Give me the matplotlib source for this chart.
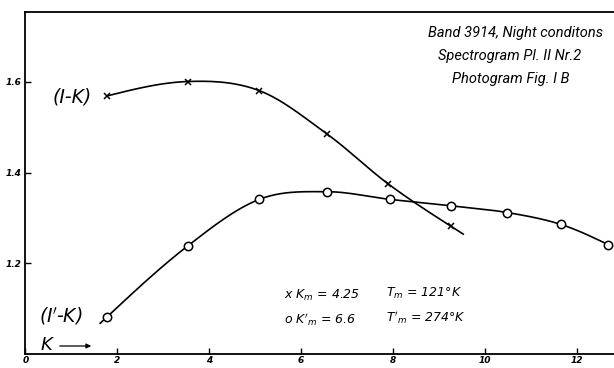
import numpy as np
import matplotlib
matplotlib.use("Agg")
import matplotlib.pyplot as plt

# ---- data ----
k_cross = [1.77, 3.53, 5.09, 6.57, 7.90, 9.26]
v_cross = [1.569, 1.601, 1.581, 1.485, 1.375, 1.282]
k_circle = [1.77, 3.53, 5.09, 6.56, 7.94, 9.26, 10.49, 11.65, 12.69]
v_circle = [1.081, 1.238, 1.341, 1.358, 1.341, 1.327, 1.312, 1.286, 1.241]
x_ticks = [0, 2, 4, 6, 8, 10, 12]
x_ticklabels = ["0", "2", "4", "6", "8", "10", "12"]
y_ticks = [1.2, 1.4, 1.6]
y_ticklabels = ["1.2", "1.4", "1.6"]
title_lines = ["Band 3914, Night conditons", "Spectrogram Pl. II Nr.2", "Photogram Fig. I B"]

plt.rcParams['mathtext.fontset'] = 'dejavusans'
W, H = 614, 368


def smooth(xs, ys, n=40, ext_start=0.0, ext_end=0.0):
    xs = np.asarray(xs, float)
    ys = np.asarray(ys, float)
    m = np.zeros_like(ys)
    for i in range(1, len(xs) - 1):
        m[i] = (ys[i + 1] - ys[i - 1]) / (xs[i + 1] - xs[i - 1])
    s0 = (ys[1] - ys[0]) / (xs[1] - xs[0])
    s1 = (ys[-1] - ys[-2]) / (xs[-1] - xs[-2])
    m[0] = (3 * s0 - m[1]) / 2
    m[-1] = (3 * s1 - m[-2]) / 2
    ox, oy = [], []
    if ext_start > 0:
        ox += [xs[0] - ext_start]
        oy += [ys[0] - m[0] * ext_start]
    for i in range(len(xs) - 1):
        h = xs[i + 1] - xs[i]
        t = np.linspace(0, 1, n)
        h00 = 2 * t**3 - 3 * t**2 + 1
        h10 = t**3 - 2 * t**2 + t
        h01 = -2 * t**3 + 3 * t**2
        h11 = t**3 - t**2
        y = h00 * ys[i] + h10 * h * m[i] + h01 * ys[i + 1] + h11 * h * m[i + 1]
        ox += list(xs[i] + t * h)
        oy += list(y)
    if ext_end > 0:
        ox += [xs[-1] + ext_end]
        oy += [ys[-1] + m[-1] * ext_end]
    return np.array(ox), np.array(oy)


fig = plt.figure(figsize=(W / 100, H / 100), dpi=100)
left = 25.3 / W
bottom = 1 - 354 / H
top = 1 - 11.7 / H
ax = fig.add_axes([left, bottom, 1 - left, top - bottom])
ax.set_xlim(0, (W - 25.3) / 45.95)
ax.set_ylim(1.0, 1.755)

for s in ['left', 'bottom', 'top']:
    ax.spines[s].set_linewidth(1.3)
ax.spines['right'].set_visible(False)

sx, sy = smooth(k_cross, v_cross, ext_end=0.27)
ax.plot(sx, sy, color='black', lw=1.2, zorder=2)
ax.plot(k_cross, v_cross, ls='none', marker='x', ms=5, mew=1.1, color='black', zorder=3)

cx, cy = smooth(k_circle, v_circle, ext_start=0.14)
ax.plot(cx, cy, color='black', lw=1.2, zorder=2)
ax.plot(k_circle, v_circle, ls='none', marker='o', ms=6, mew=1.1,
        mfc='white', mec='black', zorder=3)

ax.set_xticks(x_ticks)
ax.set_xticklabels(x_ticklabels, fontsize=6.5, fontstyle='italic', fontweight='bold')
ax.set_yticks(y_ticks)
ax.set_yticklabels(y_ticklabels, fontsize=6.5, fontstyle='italic', fontweight='bold')
ax.tick_params(axis='both', direction='in', length=4, width=1.0, pad=3)
ax.tick_params(axis='x', pad=1.5)


def px(x, y):
    return x / W, 1 - y / H


tfont = dict(fontstyle='italic', fontsize=10.5, family=['Roboto', 'DejaVu Sans'],
             color='black')
title_x = [516, 510, 511]
for i, line in enumerate(title_lines):
    fig.text(*px(title_x[i], 33 + 23 * i), line, ha='center', va='center', **tfont)

fig.text(*px(72, 97), "(I-K)", ha='center', va='center', fontsize=13.5, fontstyle='italic')
fig.text(*px(61, 316), "(I$'$-K)", ha='center', va='center', fontsize=13.5, fontstyle='italic')
fig.text(*px(46, 345), "K", ha='center', va='center', fontsize=13, fontstyle='italic')
ax.annotate("", xy=px(94, 346), xycoords='figure fraction',
            xytext=px(57, 346), textcoords='figure fraction',
            arrowprops=dict(arrowstyle='-|>', lw=0.9, color='black', mutation_scale=7))

lfont = dict(fontstyle='italic', fontsize=9, va='center', ha='left')
fig.text(*px(284, 295), "x $K_m$ = 4.25", **lfont)
fig.text(*px(284, 320), "o $K'_m$ = 6.6", **lfont)
fig.text(*px(386, 293), "$T_m$ = 121\u00b0K", **lfont)
fig.text(*px(386, 318), "$T'_m$ = 274\u00b0K", **lfont)

fig.savefig("out.png", dpi=100, facecolor='white')
